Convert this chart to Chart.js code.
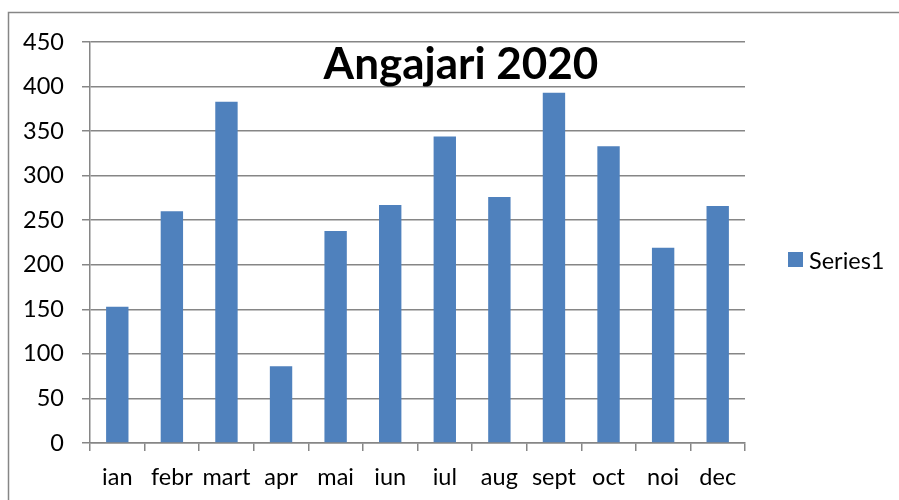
<!DOCTYPE html>
<html>
<head>
<meta charset="utf-8">
<script src="https://cdn.jsdelivr.net/npm/chart.js@4"></script>
<style>
html,body{margin:0;padding:0;background:#fff;}
#wrap{width:899px;height:500px;position:relative;}
</style>
</head>
<body>
<div id="wrap"><canvas id="c" width="899" height="500"></canvas></div>
<script>
const categories = ['ian','febr','mart','apr','mai','iun','iul','aug','sept','oct','noi','dec'];
const series1 = [153, 260, 383, 86, 238, 267, 344, 276, 393, 333, 219, 266];
const seriesName = 'Series1';
const chartTitle = 'Angajari 2020';
const yMin = 0, yMax = 450, yStep = 50;

const FONT = 'Lato, "Open Sans", sans-serif';
const BAR = '#4F81BD';
const GRID = '#868686';

const decor = {
  id: 'decor',
  beforeDraw(chart) {
    const ctx = chart.ctx;
    ctx.save();
    ctx.fillStyle = '#fff';
    ctx.fillRect(0, 0, chart.width, chart.height);
    ctx.strokeStyle = GRID;
    ctx.lineWidth = 1.5;
    ctx.beginPath();
    ctx.moveTo(8.5, 600);
    ctx.lineTo(8.5, 12.5);
    ctx.lineTo(1000, 12.5);
    ctx.stroke();
    ctx.restore();
  },
  afterDraw(chart) {
    const ctx = chart.ctx;
    ctx.save();
    // title
    ctx.fillStyle = '#000';
    ctx.font = 'bold 44px ' + FONT;
    ctx.textAlign = 'center';
    ctx.textBaseline = 'alphabetic';
    ctx.fillText(chartTitle, 461, 79);
    // legend
    ctx.fillStyle = BAR;
    ctx.fillRect(788, 252, 15, 15);
    ctx.fillStyle = '#000';
    ctx.font = '23.5px ' + FONT;
    ctx.textAlign = 'left';
    ctx.textBaseline = 'middle';
    ctx.fillText(chart.data.datasets[0].label, 809, 261);
    ctx.restore();
  }
};

new Chart(document.getElementById('c'), {
  type: 'bar',
  data: {
    labels: categories,
    datasets: [{
      label: seriesName,
      data: series1,
      backgroundColor: BAR,
      borderWidth: 0,
      categoryPercentage: 1.0,
      barPercentage: 0.41
    }]
  },
  options: {
    responsive: false,
    animation: false,
    devicePixelRatio: 1,
    layout: { padding: { left: 0, right: 154, top: 42, bottom: 0 } },
    plugins: {
      legend: { display: false },
      title: { display: false },
      tooltip: { enabled: false }
    },
    scales: {
      x: {
        offset: true,
        grid: { display: true, drawOnChartArea: false, drawTicks: true, tickLength: 8, color: GRID, lineWidth: 1.5, offset: true },
        border: { display: true, color: GRID, width: 1.5 },
        ticks: { color: '#000', font: { family: FONT, size: 23.5 }, padding: 12, maxRotation: 0, autoSkip: false },
        afterFit(scale) { scale.height = 57; }
      },
      y: {
        min: yMin, max: yMax,
        grid: { color: GRID, lineWidth: 1.5, tickLength: 8, drawTicks: true },
        border: { display: true, color: GRID, width: 1.5 },
        ticks: { stepSize: yStep, color: '#000', font: { family: FONT, size: 23.5 }, padding: 18 },
        afterFit(scale) { scale.width = 90; }
      }
    }
  },
  plugins: [decor]
});
</script>
</body>
</html>
